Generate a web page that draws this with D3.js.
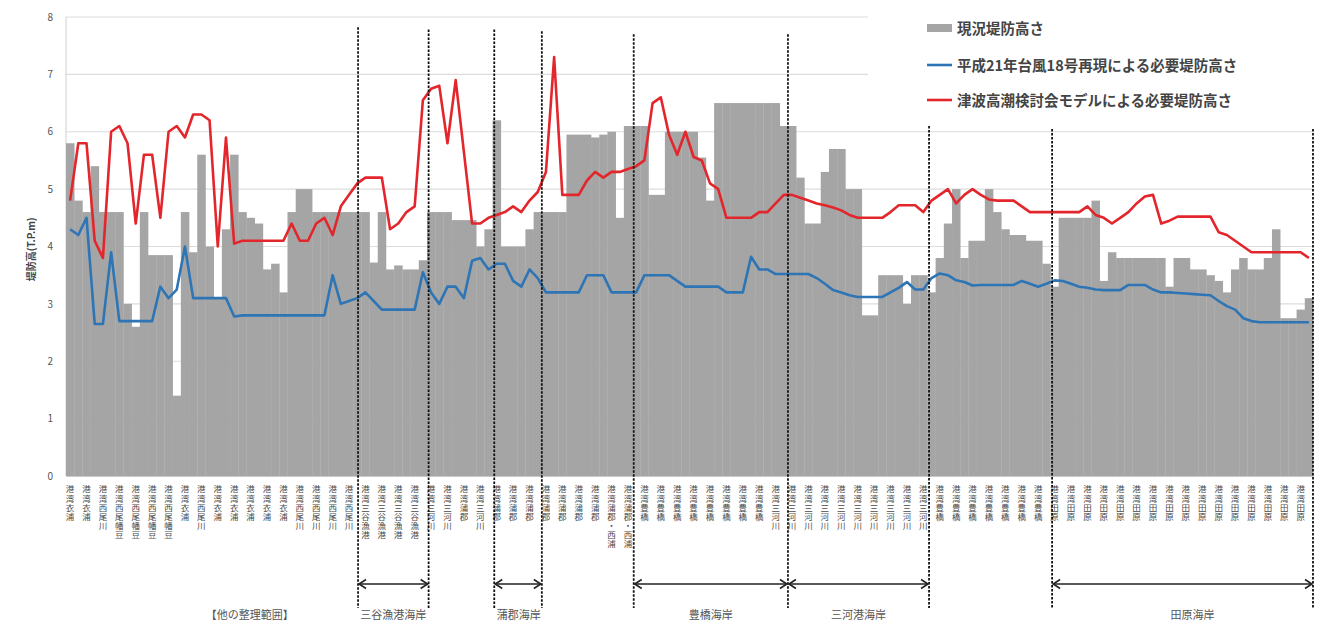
<!DOCTYPE html>
<html>
<head>
<meta charset="utf-8">
<script src="https://cdn.jsdelivr.net/npm/d3@7"></script>
<style>
body { margin: 0; background: #fff; }
text { font-family: "Noto Sans CJK JP", "Noto Sans", sans-serif; }
</style>
</head>
<body>
<div id="chart"></div>
<script>
// category labels (every other category is labelled)
var categoryLabels = [
    '港湾衣浦', '港湾衣浦', '港湾西尾川', '港湾西尾幡豆', '港湾西尾幡豆', '港湾西尾幡豆',
    '港湾西尾幡豆', '港湾衣浦', '港湾西尾川', '港湾衣浦', '港湾衣浦', '港湾衣浦',
    '港湾衣浦', '港湾衣浦', '港湾西尾川', '港湾西尾川', '港湾西尾川', '港湾西尾川',
    '港湾三谷漁港', '港湾三谷漁港', '港湾三谷漁港', '港湾三谷漁港', '港湾三河川',
    '港湾三河川', '港湾蒲郡', '港湾三河川', '港湾蒲郡', '港湾蒲郡', '港湾蒲郡',
    '港湾蒲郡', '港湾蒲郡', '港湾蒲郡', '港湾蒲郡', '港湾蒲郡・西浦', '港湾蒲郡・西浦',
    '港湾豊橋', '港湾豊橋', '港湾豊橋', '港湾豊橋', '港湾豊橋', '港湾豊橋', '港湾豊橋',
    '港湾豊橋', '港湾三河川', '港湾三河川', '港湾三河川', '港湾三河川', '港湾三河川',
    '港湾三河川', '港湾三河川', '港湾三河川', '港湾三河川', '港湾三河川', '港湾豊橋',
    '港湾豊橋', '港湾豊橋', '港湾豊橋', '港湾豊橋', '港湾豊橋', '港湾豊橋',
    '港湾田原', '港湾田原', '港湾田原', '港湾田原', '港湾田原', '港湾田原', '港湾田原',
    '港湾田原', '港湾田原', '港湾田原', '港湾田原', '港湾田原', '港湾田原', '港湾田原',
    '港湾田原', '港湾田原'
];

// 現況堤防高さ
var wallHeight = [
    5.8, 4.8, 4.6, 5.4, 4.6, 4.6, 4.6, 3.0, 2.6, 4.6,
    3.85, 3.85, 3.85, 1.4, 4.6, 3.9, 5.6, 4.0, 3.1, 4.3,
    5.6, 4.6, 4.5, 4.4, 3.6, 3.7, 3.2, 4.6, 5.0, 5.0,
    4.6, 4.6, 4.6, 4.6, 4.6, 4.6, 4.6, 3.72, 4.6, 3.6,
    3.67, 3.6, 3.6, 3.76, 4.6, 4.6, 4.6, 4.46, 4.46, 4.46,
    4.0, 4.3, 6.2, 4.0, 4.0, 4.0, 4.3, 4.6, 4.6, 4.6,
    4.6, 5.95, 5.95, 5.95, 5.9, 5.95, 6.0, 4.5, 6.1, 6.1,
    6.1, 4.9, 4.9, 6.0, 6.0, 6.0, 6.0, 5.55, 4.8, 6.5,
    6.5, 6.5, 6.5, 6.5, 6.5, 6.5, 6.5, 6.1, 6.1, 5.2,
    4.4, 4.4, 5.3, 5.7, 5.7, 5.0, 5.0, 2.8, 2.8, 3.5,
    3.5, 3.5, 3.0, 3.5, 3.5, 3.2, 3.8, 4.4, 5.0, 3.8,
    4.1, 4.1, 5.0, 4.6, 4.3, 4.2, 4.2, 4.1, 4.1, 3.7,
    3.3, 4.5, 4.5, 4.5, 4.5, 4.8, 3.4, 3.9, 3.8, 3.8,
    3.8, 3.8, 3.8, 3.8, 3.3, 3.8, 3.8, 3.6, 3.6, 3.5,
    3.4, 3.2, 3.6, 3.8, 3.6, 3.6, 3.8, 4.3, 2.75, 2.75,
    2.9, 3.1
];

// 平成21年台風18号再現による必要堤防高さ
var typhoonHeight = [
    4.3, 4.2, 4.5, 2.65, 2.65, 3.9, 2.7, 2.7, 2.7, 2.7,
    2.7, 3.3, 3.1, 3.25, 4.0, 3.1, 3.1, 3.1, 3.1, 3.1,
    2.78, 2.8, 2.8, 2.8, 2.8, 2.8, 2.8, 2.8, 2.8, 2.8,
    2.8, 2.8, 3.5, 3.0, 3.05, 3.1, 3.2, 3.05, 2.9, 2.9,
    2.9, 2.9, 2.9, 3.55, 3.2, 3.0, 3.3, 3.3, 3.1, 3.75,
    3.8, 3.6, 3.7, 3.7, 3.4, 3.3, 3.6, 3.45, 3.2, 3.2,
    3.2, 3.2, 3.2, 3.5, 3.5, 3.5, 3.2, 3.2, 3.2, 3.2,
    3.5, 3.5, 3.5, 3.5, 3.4, 3.3, 3.3, 3.3, 3.3, 3.3,
    3.2, 3.2, 3.2, 3.82, 3.6, 3.6, 3.52, 3.52, 3.52, 3.52,
    3.52, 3.45, 3.35, 3.24, 3.2, 3.15, 3.12, 3.12, 3.12, 3.12,
    3.2, 3.28, 3.38, 3.25, 3.25, 3.45, 3.53, 3.5, 3.41, 3.38,
    3.32, 3.33, 3.33, 3.33, 3.33, 3.33, 3.4, 3.35, 3.3, 3.35,
    3.41, 3.4, 3.35, 3.3, 3.28, 3.25, 3.24, 3.24, 3.24, 3.33,
    3.33, 3.33, 3.25, 3.2, 3.2, 3.19, 3.18, 3.17, 3.16, 3.15,
    3.05, 2.96, 2.9, 2.75, 2.7, 2.68, 2.68, 2.68, 2.68, 2.68,
    2.68, 2.68
];

// 津波高潮検討会モデルによる必要堤防高さ
var tsunamiHeight = [
    4.8, 5.8, 5.8, 4.1, 3.8, 6.0, 6.1, 5.8, 4.4, 5.6,
    5.6, 4.5, 6.0, 6.1, 5.9, 6.3, 6.3, 6.2, 4.0, 5.9,
    4.05, 4.1, 4.1, 4.1, 4.1, 4.1, 4.1, 4.4, 4.1, 4.1,
    4.4, 4.5, 4.2, 4.7, 4.9, 5.1, 5.2, 5.2, 5.2, 4.3,
    4.4, 4.6, 4.7, 6.55, 6.75, 6.8, 5.8, 6.9, 5.65, 4.4,
    4.4, 4.5, 4.55, 4.6, 4.7, 4.6, 4.8, 4.95, 5.3, 7.3,
    4.9, 4.9, 4.9, 5.15, 5.3, 5.2, 5.3, 5.3, 5.35, 5.4,
    5.5, 6.5, 6.6, 5.95, 5.6, 6.0, 5.56, 5.5, 5.1, 5.0,
    4.5, 4.5, 4.5, 4.5, 4.6, 4.6, 4.75, 4.9, 4.9, 4.85,
    4.8, 4.75, 4.72, 4.68, 4.63, 4.55, 4.5, 4.5, 4.5, 4.5,
    4.6, 4.72, 4.72, 4.72, 4.6, 4.8, 4.9, 5.0, 4.75, 4.9,
    5.0, 4.9, 4.82, 4.8, 4.8, 4.8, 4.7, 4.6, 4.6, 4.6,
    4.6, 4.6, 4.6, 4.6, 4.7, 4.55, 4.5, 4.4, 4.5, 4.6,
    4.75, 4.87, 4.9, 4.4, 4.45, 4.52, 4.52, 4.52, 4.52, 4.52,
    4.25, 4.2, 4.1, 4.0, 3.9, 3.9, 3.9, 3.9, 3.9, 3.9,
    3.9, 3.8
];

var yTicks = [0, 1, 2, 3, 4, 5, 6, 7, 8];

// section boundaries, in category units
var sectionBreaks = [35.6, 44.2, 52.2, 58, 69.2, 88, 105.2, 120.2, 152];
// where each dashed boundary starts (value units)
var breakTops = [7.82, 7.78, 7.78, 7.75, 7.7, 7.7, 6.1, 6.05, 6.05];
// arrows: pairs of indices into sectionBreaks
var sectionArrows = [[0, 1], [2, 3], [4, 5], [5, 6], [7, 8]];
var sectionNames = ['【他の整理範囲】', '三谷漁港海岸', '蒲郡海岸', '豊橋海岸', '三河港海岸', '田原海岸'];
var sectionCenters = [22.4, 39.9, 55.2, 78.6, 96.6, 137.3];

var legendNames = ['現況堤防高さ', '平成21年台風18号再現による必要堤防高さ', '津波高潮検討会モデルによる必要堤防高さ'];

var width = 1336, height = 630;
var plotLeft = 66, plotRight = 1313, plotTop = 17, plotBottom = 476;
var barColor = '#a5a5a5';
var blueColor = '#2e75b6';
var redColor = '#e3262b';
var mainFont = '"Noto Sans CJK JP", sans-serif';

render();

function render() {
    var svg = d3.select('#chart').append('svg')
        .attr('width', width)
        .attr('height', height);

    var n = wallHeight.length;
    var x = d3.scaleBand().domain(d3.range(n)).range([plotLeft, plotRight]).padding(0);
    var xPos = d3.scaleLinear().domain([0, n]).range([plotLeft, plotRight]);
    var y = d3.scaleLinear().domain([0, 8]).range([plotBottom, plotTop]);

    // gridlines
    svg.append('g').selectAll('line')
        .data(yTicks.slice(1))
        .enter().append('line')
        .attr('x1', plotLeft).attr('x2', plotRight)
        .attr('y1', function(d) { return y(d); })
        .attr('y2', function(d) { return y(d); })
        .attr('stroke', '#dcdcdc')
        .attr('stroke-width', 1.2);

    // left axis line
    svg.append('line')
        .attr('x1', plotLeft).attr('x2', plotLeft)
        .attr('y1', y(8)).attr('y2', y(0))
        .attr('stroke', '#d0d0d0');

    // legend box covers the grid on the upper right
    svg.append('rect')
        .attr('x', 868).attr('y', 0)
        .attr('width', width - 868).attr('height', y(6.2))
        .attr('fill', '#fff');

    // bars
    svg.append('g').selectAll('rect')
        .data(wallHeight)
        .enter().append('rect')
        .attr('x', function(d, i) { return x(i); })
        .attr('width', x.bandwidth() + 0.3)
        .attr('y', function(d) { return y(d); })
        .attr('height', function(d) { return y(0) - y(d); })
        .attr('fill', barColor);

    // category axis, labels written top to bottom
    var xAxis = d3.axisBottom(x)
        .tickValues(d3.range(0, n, 2))
        .tickSize(0)
        .tickFormat(function(d) { return categoryLabels[d / 2] || ''; });
    var gx = svg.append('g')
        .attr('transform', 'translate(0,' + y(0) + ')')
        .call(xAxis);
    gx.select('.domain').attr('stroke', '#c8c8c8');
    gx.selectAll('.tick text')
        .attr('x', 0)
        .attr('y', 9)
        .attr('dy', null)
        .style('writing-mode', 'vertical-rl')
        .style('text-orientation', 'upright')
        .style('letter-spacing', '0.6px')
        .style('text-anchor', 'start')
        .style('font-size', '8.5px')
        .style('font-family', mainFont)
        .attr('fill', '#4a4a4a');

    // value axis labels
    var yAxis = d3.axisLeft(y).tickValues(yTicks).tickSize(0).tickPadding(13);
    var gy = svg.append('g')
        .attr('transform', 'translate(' + plotLeft + ',0)')
        .call(yAxis);
    gy.select('.domain').remove();
    gy.selectAll('text')
        .style('font-size', '10px')
        .style('font-family', mainFont)
        .attr('fill', '#555');

    svg.append('text')
        .attr('transform', 'translate(35,' + y(3.95) + ') rotate(-90)')
        .style('text-anchor', 'middle')
        .style('font-size', '10px')
        .style('font-weight', 'bold')
        .style('font-family', mainFont)
        .attr('fill', '#444')
        .text('堤防高(T.P.m)');

    // lines
    var line = d3.line()
        .x(function(d, i) { return x(i) + x.bandwidth() / 2; })
        .y(function(d) { return y(d); });

    svg.append('path')
        .attr('d', line(typhoonHeight))
        .attr('fill', 'none')
        .attr('stroke', blueColor)
        .attr('stroke-width', 2.6)
        .attr('stroke-linejoin', 'round');

    svg.append('path')
        .attr('d', line(tsunamiHeight))
        .attr('fill', 'none')
        .attr('stroke', redColor)
        .attr('stroke-width', 2.6)
        .attr('stroke-linejoin', 'round');

    // section boundaries
    var breakBottom = y(0) + 132;
    svg.append('g').selectAll('line')
        .data(sectionBreaks)
        .enter().append('line')
        .attr('x1', function(d) { return xPos(d); })
        .attr('x2', function(d) { return xPos(d); })
        .attr('y1', function(d, i) { return y(breakTops[i]); })
        .attr('y2', breakBottom)
        .attr('stroke', '#111')
        .attr('stroke-width', 1.8)
        .attr('stroke-dasharray', '2.5 1.5');

    // arrows
    var arrowY = y(0) + 108;
    var head = 7;
    sectionArrows.forEach(function(p) {
        var x1 = xPos(sectionBreaks[p[0]]) + 1;
        var x2 = xPos(sectionBreaks[p[1]]) - 1;
        svg.append('line')
            .attr('x1', x1).attr('x2', x2)
            .attr('y1', arrowY).attr('y2', arrowY)
            .attr('stroke', '#222').attr('stroke-width', 1.6);
        svg.append('path')
            .attr('d', 'M' + (x1 + head) + ',' + (arrowY - 4.5) + 'L' + x1 + ',' + arrowY + 'L' + (x1 + head) + ',' + (arrowY + 4.5))
            .attr('fill', 'none').attr('stroke', '#222').attr('stroke-width', 1.6);
        svg.append('path')
            .attr('d', 'M' + (x2 - head) + ',' + (arrowY - 4.5) + 'L' + x2 + ',' + arrowY + 'L' + (x2 - head) + ',' + (arrowY + 4.5))
            .attr('fill', 'none').attr('stroke', '#222').attr('stroke-width', 1.6);
    });

    // section names
    svg.append('g').selectAll('text')
        .data(sectionNames)
        .enter().append('text')
        .attr('x', function(d, i) { return xPos(sectionCenters[i]); })
        .attr('y', y(0) + 143)
        .style('text-anchor', 'middle')
        .style('font-size', '11px')
        .style('font-family', mainFont)
        .attr('fill', '#555')
        .text(function(d) { return d; });

    makeLegend(svg);
}

function makeLegend(svg) {
    var lx = 927, ly = [28, 65, 100];
    var g = svg.append('g');
    g.append('rect')
        .attr('x', lx).attr('y', ly[0] - 4)
        .attr('width', 25).attr('height', 8)
        .attr('fill', barColor);
    g.append('line')
        .attr('x1', lx).attr('x2', lx + 25)
        .attr('y1', ly[1]).attr('y2', ly[1])
        .attr('stroke', blueColor).attr('stroke-width', 2.6);
    g.append('line')
        .attr('x1', lx).attr('x2', lx + 25)
        .attr('y1', ly[2]).attr('y2', ly[2])
        .attr('stroke', redColor).attr('stroke-width', 2.6);
    g.selectAll('text')
        .data(legendNames)
        .enter().append('text')
        .attr('x', lx + 30)
        .attr('y', function(d, i) { return ly[i] + 5.5; })
        .style('font-size', '14.5px')
        .style('font-weight', 'bold')
        .style('font-family', mainFont)
        .attr('fill', '#444')
        .text(function(d) { return d; });
}
</script>
</body>
</html>
